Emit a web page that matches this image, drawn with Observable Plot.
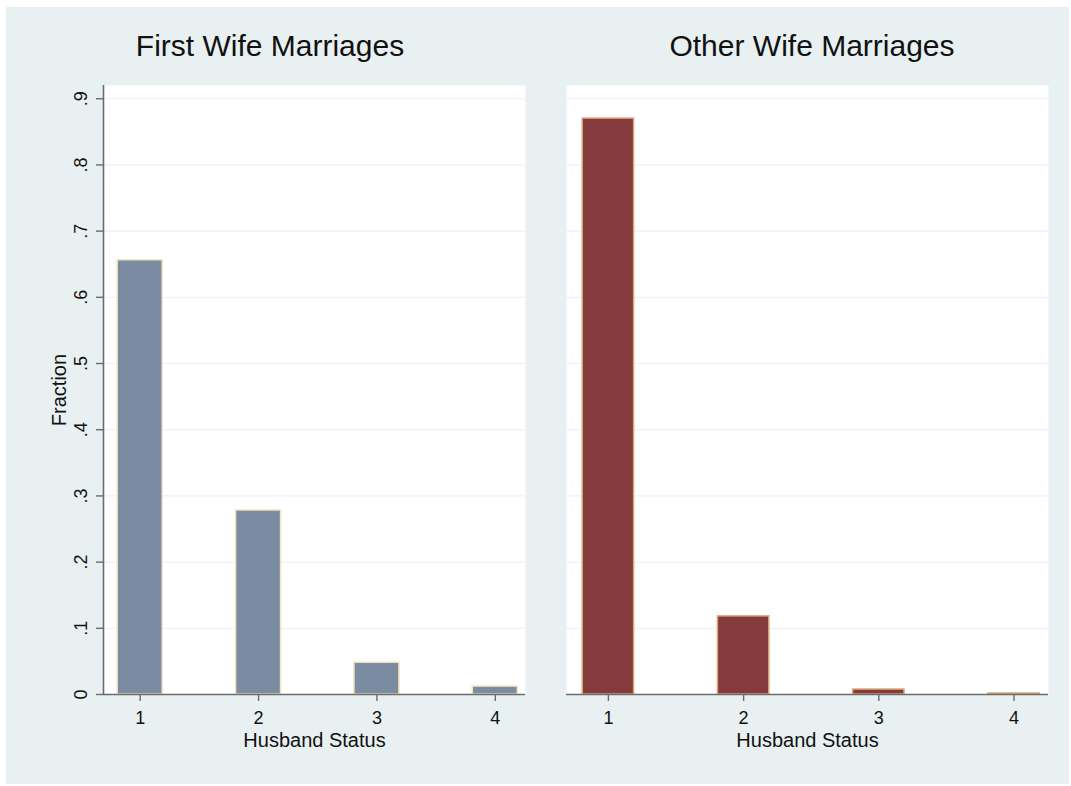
<!DOCTYPE html>
<html>
<head>
<meta charset="utf-8">
<script src="https://cdn.jsdelivr.net/npm/d3@7"></script>
<script src="https://cdn.jsdelivr.net/npm/@observablehq/plot@0.6"></script>
<style>
  html, body { margin: 0; padding: 0; background: #ffffff; }
  body { width: 1071px; height: 786px; position: relative; overflow: hidden;
         font-family: "Liberation Sans", Arial, Helvetica, sans-serif; }
  #page { position: absolute; left: 6px; top: 7px; width: 1063px; height: 777px; background: #e8f0f2; }
  .panel { position: absolute; top: 0; }
  .title { position: absolute; top: 31px; font-size: 30px; line-height: 30px;
           text-align: center; color: #111; }
</style>
</head>
<body>
<div id="page"></div>
<script>
// Husband status categories and the share of marriages in each
const statuses = [1, 2, 3, 4];
const firstWifeFraction = [0.656, 0.278, 0.048, 0.012];
const otherWifeFraction = [0.870, 0.118, 0.0075, 0.0015];

// Axis ticks and labels
const yTicks = [0, 0.1, 0.2, 0.3, 0.4, 0.5, 0.6, 0.7, 0.8, 0.9];
const xTicks = [1, 2, 3, 4];
const panelTitles = ["First Wife Marriages", "Other Wife Marriages"];
const xLabel = "Husband Status";
const yLabel = "Fraction";

const xDomain = [0.69, 4.255];
const yDomain = [0, 0.92];
const barWidth = 0.38;
const fontFamily = '"Liberation Sans", Arial, Helvetica, sans-serif';
const axisColor = "#6b6b6b";
const gridColor = "#eef2f3";

// Stata-style labels: ".1", ".2", ... and "0"
const fmtY = (d) => d === 0 ? "0" : d3.format(".1f")(d).replace(/^0/, "");

function panel({values, fill, stroke, width, marginLeft, marginRight, showY}) {
  const rows = statuses.map((s, i) => ({status: s, fraction: values[i]}));
  const marks = [
    Plot.frame({fill: "white", stroke: null}),
    Plot.ruleY(yTicks.filter((t) => t > 0), {stroke: gridColor, strokeWidth: 1.2}),
    Plot.rectY(rows, {
      x1: (d) => d.status - barWidth / 2,
      x2: (d) => d.status + barWidth / 2,
      y: "fraction",
      fill, stroke, strokeWidth: 1.5
    }),
    Plot.ruleY([0], {stroke: axisColor, strokeWidth: 1.6}),
    Plot.axisX({ticks: xTicks, tickSize: 7, tickPadding: 10, tickFormat: (d) => String(d),
                label: null, fontSize: 18, stroke: axisColor, strokeWidth: 1.4, fill: "#111"}),
    Plot.text([xLabel], {text: (d) => d, frameAnchor: "bottom", lineAnchor: "bottom",
                         dy: 52, fontSize: 20, fill: "#111"})
  ];
  if (showY) {
    marks.push(
      Plot.ruleX([xDomain[0]], {stroke: axisColor, strokeWidth: 1.6}),
      Plot.axisY({ticks: yTicks, tickSize: 7, tickFormat: () => "", label: null,
                  stroke: axisColor, strokeWidth: 1.4}),
      Plot.text(yTicks, {y: (d) => d, text: fmtY, frameAnchor: "left", rotate: -90,
                         lineAnchor: "bottom", textAnchor: "middle", dx: -17,
                         fontSize: 18, fill: "#111"}),
      Plot.text([yLabel], {text: (d) => d, frameAnchor: "left", rotate: -90,
                           lineAnchor: "bottom", textAnchor: "middle", dx: -38,
                           fontSize: 20, fill: "#111"})
    );
  }
  return Plot.plot({
    width, height: 786,
    marginLeft, marginRight, marginTop: 85, marginBottom: 92,
    x: {domain: xDomain, axis: null},
    y: {domain: yDomain, axis: null},
    style: {background: "transparent", fontFamily, color: "#111", overflow: "visible"},
    marks
  });
}

const specs = [
  {left: 0, width: 545, marginLeft: 103, marginRight: 20, showY: true,
   values: firstWifeFraction, fill: "#7b8ba1", stroke: "#efe5bf"},
  {left: 545, width: 526, marginLeft: 21, marginRight: 23, showY: false,
   values: otherWifeFraction, fill: "#853a3d", stroke: "#d9a679"}
];

specs.forEach((s, i) => {
  const svg = panel(s);
  svg.classList.add("panel");
  svg.style.left = s.left + "px";
  svg.style.position = "absolute";
  svg.style.top = "0px";
  document.body.appendChild(svg);

  const title = document.createElement("div");
  title.className = "title";
  title.textContent = panelTitles[i];
  title.style.left = (i === 0 ? 0 : 545) + "px";
  title.style.width = (i === 0 ? 540 : 534) + "px";
  document.body.appendChild(title);
});
</script>
</body>
</html>
